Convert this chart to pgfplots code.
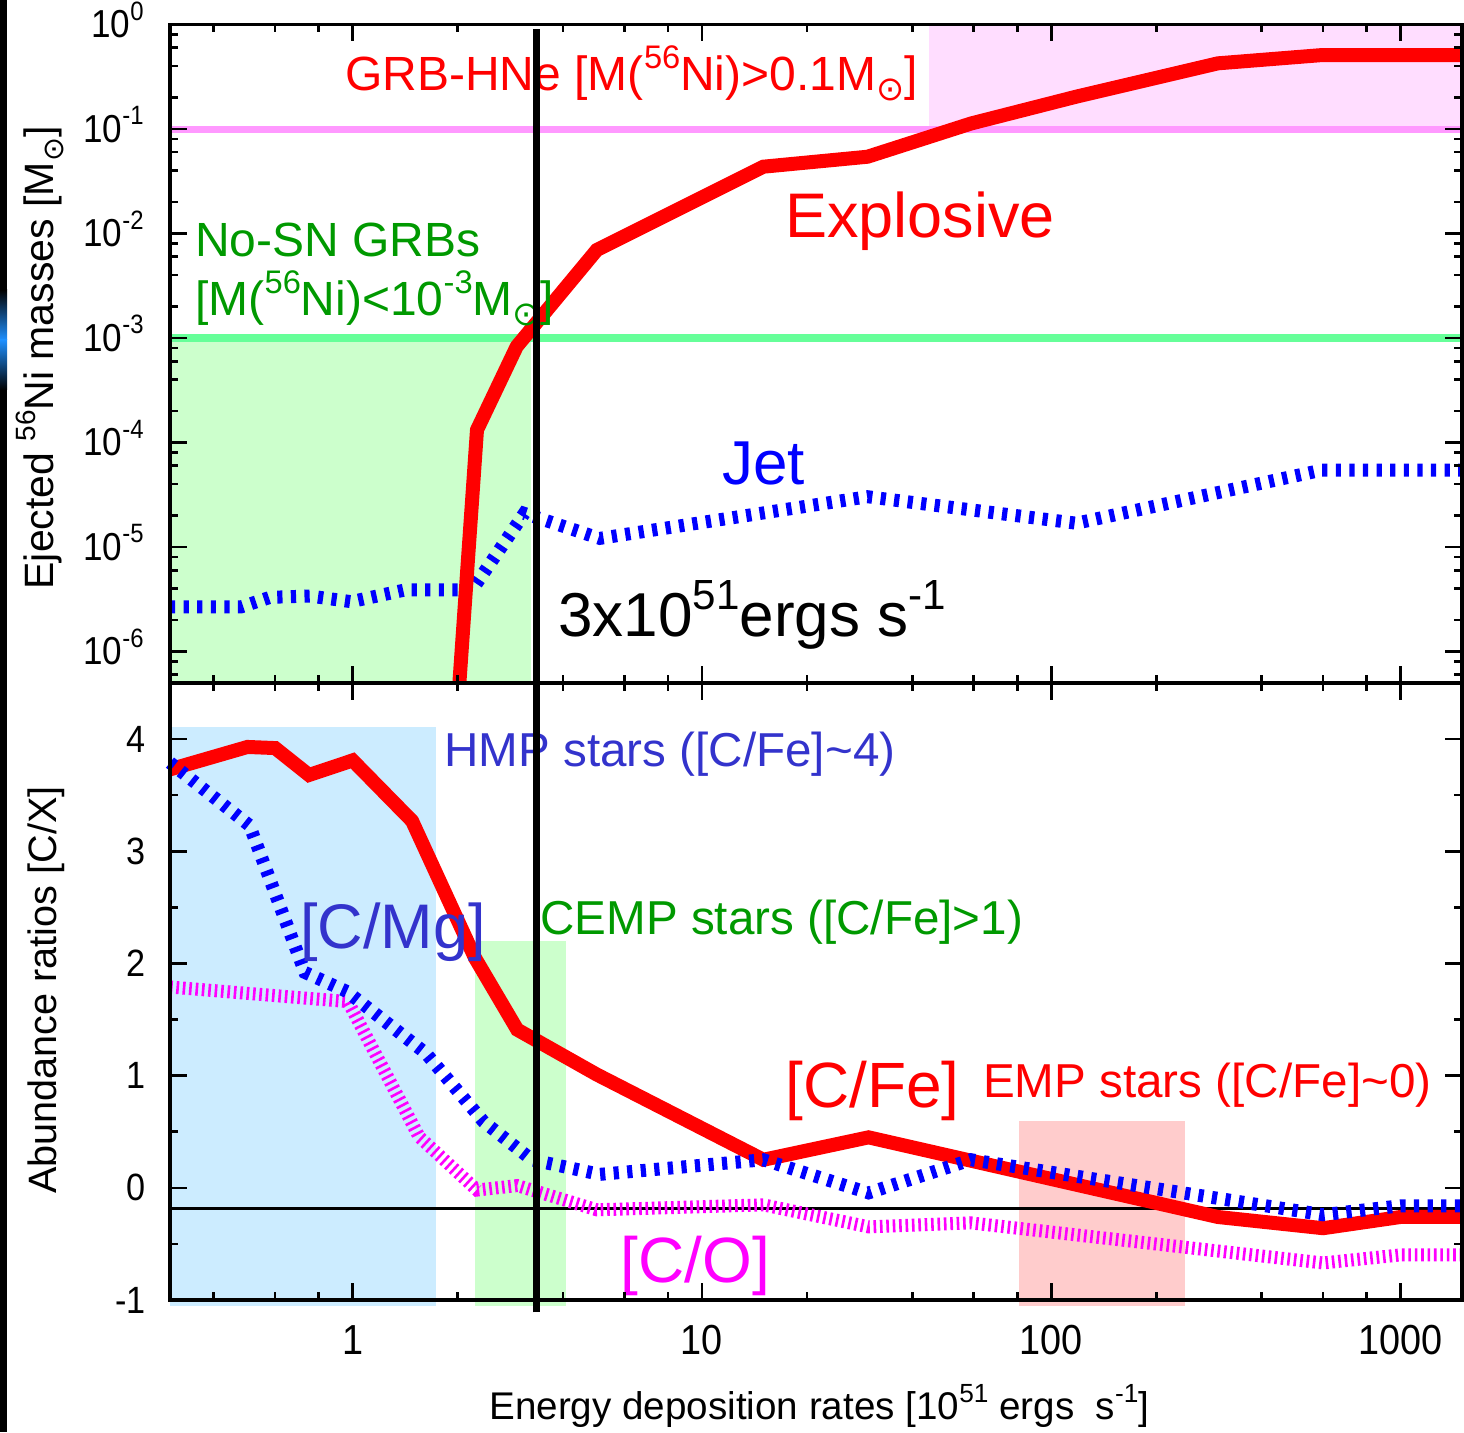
\documentclass[border=0pt]{standalone}
\usepackage{fontspec}
\setmainfont{Liberation Sans}
\newfontfamily\dejavu{DejaVu Sans}
\newfontfamily\narrowfont[FakeStretch=0.9]{Liberation Sans}
\usepackage{graphicx}
\usepackage{pgfplots}
\pgfplotsset{compat=1.18}
\definecolor{cred}{RGB}{255,0,0}
\definecolor{cblue}{RGB}{0,0,255}
\definecolor{cmag}{RGB}{255,0,255}
\definecolor{tblue}{RGB}{51,51,204}
\definecolor{tgreen}{RGB}{0,153,0}
\definecolor{gfill}{RGB}{204,255,204}
\definecolor{gline}{RGB}{102,255,153}
\definecolor{pfill}{RGB}{255,221,255}
\definecolor{pline}{RGB}{255,153,255}
\definecolor{bfill}{RGB}{204,236,255}
\definecolor{sfill}{RGB}{255,204,204}
\definecolor{sblue}{RGB}{30,144,255}
\newcommand{\sups}[1]{\raisebox{0.45em}{\scalebox{0.68}{#1}}}
\newcommand{\tsup}[1]{\smash{\raisebox{0.45em}{\scalebox{0.68}{#1}}}}
\newcommand{\sun}{\raisebox{-0.22em}{\scalebox{0.7}{\dejavu ⊙}}}
\tikzset{
  jet/.style={cblue, line width=6.5pt, dash pattern=on 2.6pt off 4.2pt},
  co/.style={cmag, line width=6.5pt, dash pattern=on 1.3pt off 1.9pt},
  expl/.style={cred, line width=7pt},
}
\begin{document}
\begin{tikzpicture}
\useasboundingbox (0,0) rectangle (732pt,716pt);
\fill[black] (0,0) rectangle (3.5pt,716pt);
\shade[top color=black, bottom color=sblue] (0,571pt) rectangle (3.5pt,546pt);
\shade[top color=sblue, bottom color=black] (0,546pt) rectangle (3.5pt,521pt);

% ---------------- top panel ----------------
\begin{axis}[
  scale only axis, width=646pt, height=329.25pt,
  at={(85pt,374.5pt)}, anchor=south west,
  xmode=log, ymode=log, xmin=0.3, xmax=1500, ymin=5e-7, ymax=1,
  xtick={1,10,100,1000}, xticklabels={},
  minor xtick={0.4,0.6,0.8,2,4,6,8,20,40,60,80,200,400,600,800},
  tick align=inside, xtick pos=both, ytick pos=both,
  major tick length=8.5pt, minor tick length=4pt,
  tick style={line width=1.3pt, black},
  axis line style={line width=1.6pt},
  axis on top,
  ytick={1e-6,1e-5,1e-4,1e-3,1e-2,1e-1,1},
  yticklabels={10\tsup{-6},10\tsup{-5},10\tsup{-4},10\tsup{-3},10\tsup{-2},10\tsup{-1},\raisebox{-2.5pt}{10\tsup{0}}},
  minor ytick={6e-7,8e-7,2e-6,4e-6,6e-6,8e-6,2e-5,4e-5,6e-5,8e-5,2e-4,4e-4,6e-4,8e-4,2e-3,4e-3,6e-3,8e-3,2e-2,4e-2,6e-2,8e-2,0.2,0.4,0.6,0.8},
  yticklabel style={font=\narrowfont\fontsize{19.5}{20}\selectfont, inner sep=0pt, xshift=-13pt},
  clip mode=individual,
]
\addplot[fill=gfill, draw=none] coordinates {(0.3,5e-7) (3.24,5e-7) (3.24,1e-3) (0.3,1e-3)};
\addplot[fill=pfill, draw=none] coordinates {(44.6,0.1) (1500,0.1) (1500,1) (44.6,1)};
\addplot[pline, line width=3.5pt] coordinates {(0.3,0.1) (1500,0.1)};
\addplot[gline, line width=4pt] coordinates {(0.3,1e-3) (1500,1e-3)};
% Jet
\addplot[jet] coordinates {(0.3,2.68e-6) (0.48,2.68e-6) (0.58,3.3e-6) (0.754,3.4e-6) (0.99,3.0e-6) (1.42,3.9e-6) (2.2,3.9e-6) (3.1,2.1e-5) (5.1,1.21e-5) (29.8,3.03e-5) (118,1.69e-5) (596,5.45e-5) (1500,5.45e-5)};
% Explosive
\addplot[expl] coordinates {(2.0,3e-7) (2.27,1.32e-4) (2.95,8.3e-4) (5.0,6.95e-3) (15,0.0436) (29.8,0.0543) (59,0.113) (118,0.204) (300,0.425) (596,0.51) (1500,0.51)};
\node[anchor=base west, inner sep=0pt, text=cred, font=\fontsize{24}{28}\selectfont] at (rel axis cs:0.1354,0.900) {GRB-HNe [M(\sups{56}Ni)>0.1M\sun]};
\node[anchor=base west, inner sep=0pt, text=tgreen, font=\fontsize{24}{28}\selectfont] at (rel axis cs:0.0193,0.6470) {No-SN GRBs};
\node[anchor=base west, inner sep=0pt, text=tgreen, font=\fontsize{24}{28}\selectfont] at (rel axis cs:0.0193,0.5588) {[M(\sups{56}Ni)<10\sups{-3}M\sun]};
\node[anchor=base west, inner sep=0pt, text=cred, font=\fontsize{31.5}{36}\selectfont] at (rel axis cs:0.476,0.6758) {Explosive};
\node[anchor=base west, inner sep=0pt, text=cblue, font=\fontsize{31}{36}\selectfont] at (rel axis cs:0.4272,0.3007) {Jet};
\node[anchor=base west, inner sep=0pt, text=black, font=\fontsize{31}{36}\selectfont] at (rel axis cs:0.3003,0.0699) {3x10\sups{51}ergs s\sups{-1}};
\addplot[black, line width=3.5pt] coordinates {(3.36,5e-7) (3.36,0.906)};
\end{axis}

% ---------------- bottom panel ----------------
\begin{axis}[
  scale only axis, width=646pt, height=308.5pt,
  at={(85pt,66pt)}, anchor=south west,
  xmode=log, xmin=0.3, xmax=1500, ymin=-1, ymax=4.5,
  xtick={1,10,100,1000}, xticklabels={1,10,100,1000},
  minor xtick={0.4,0.6,0.8,2,4,6,8,20,40,60,80,200,400,600,800},
  tick align=inside, xtick pos=both, ytick pos=both,
  major tick length=8.5pt, minor tick length=4pt,
  tick style={line width=1.3pt, black},
  axis line style={line width=1.6pt},
  axis on top,
  xticklabel style={font=\narrowfont\fontsize{21}{22}\selectfont, inner sep=0pt, yshift=-12.5pt},
  ytick={-1,0,1,2,3,4}, yticklabels={-1,0,1,2,3,4},
  minor ytick={-0.5,0.5,1.5,2.5,3.5},
  yticklabel style={font=\narrowfont\fontsize{19}{20}\selectfont, inner sep=0pt, xshift=-12pt},
  clip=false,
]
\addplot[fill=bfill, draw=none] coordinates {(0.3,-1.05) (1.73,-1.05) (1.73,4.11) (0.3,4.11)};
\addplot[fill=gfill, draw=none] coordinates {(2.24,-1.05) (4.08,-1.05) (4.08,2.2) (2.24,2.2)};
\addplot[fill=sfill, draw=none] coordinates {(80.7,-1.05) (241,-1.05) (241,0.6) (80.7,0.6)};
\addplot[black, line width=1.5pt] coordinates {(0.3,-0.18) (1500,-0.18)};
% [C/O]
\addplot[co] coordinates {(0.3,1.79) (0.97,1.66) (1.55,0.455) (2.27,-0.02) (2.96,0.02) (5.0,-0.196) (15,-0.152) (30,-0.348) (59,-0.313) (600,-0.67) (1000,-0.598) (1500,-0.598)};
% [C/Fe]
\addplot[expl] coordinates {(0.3,3.73) (0.5,3.93) (0.6,3.92) (0.75,3.68) (1.0,3.81) (1.48,3.27) (2.24,2.05) (2.96,1.41) (5.0,1.01) (15,0.25) (30,0.45) (300,-0.26) (600,-0.36) (1000,-0.26) (1500,-0.26)};
% [C/Mg]
\addplot[jet] coordinates {(0.3,3.79) (0.507,3.23) (0.73,1.92) (0.963,1.75) (1.62,1.2) (2.37,0.59) (3.26,0.25) (5.1,0.12) (15,0.25) (30,-0.045) (59,0.25) (600,-0.24) (1000,-0.16) (1500,-0.16)};
\node[anchor=base west, inner sep=0pt, text=tblue, font=\fontsize{23.8}{28}\selectfont] at (rel axis cs:0.2121,0.8639) {HMP stars ([C/Fe]\textasciitilde 4)};
\node[anchor=base west, inner sep=0pt, text=tblue, font=\fontsize{31.5}{36}\selectfont] at (rel axis cs:0.1006,0.5705) {[C/Mg]};
\node[anchor=base west, inner sep=0pt, text=tgreen, font=\fontsize{23.8}{28}\selectfont] at (rel axis cs:0.2864,0.5932) {CEMP stars ([C/Fe]>1)};
\node[anchor=base west, inner sep=0pt, text=cred, font=\fontsize{32}{36}\selectfont] at (rel axis cs:0.476,0.3128) {[C/Fe]};
\node[anchor=base west, inner sep=0pt, text=cred, font=\fontsize{23.8}{28}\selectfont] at (rel axis cs:0.629,0.329) {EMP stars ([C/Fe]\textasciitilde 0)};
\node[anchor=base west, inner sep=0pt, text=cmag, font=\fontsize{32}{36}\selectfont] at (rel axis cs:0.3487,0.0276) {[C/O]};
\addplot[black, line width=3.5pt] coordinates {(3.36,-1.11) (3.36,4.5)};
\end{axis}

% axis labels
\node[anchor=base, rotate=90, inner sep=0pt, font=\fontsize{20.5}{22}\selectfont] at (27pt,537pt) {Ejected \sups{56}Ni masses [M\sun]};
\node[anchor=base, rotate=90, inner sep=0pt, font=\fontsize{19.8}{22}\selectfont] at (28pt,221pt) {Abundance ratios [C/X]};
\node[anchor=base west, inner sep=0pt, font=\fontsize{19.3}{22}\selectfont] at (244.5pt,6pt) {Energy deposition rates [10\sups{51} ergs\ \ s\sups{-1}]};
\end{tikzpicture}
\end{document}
